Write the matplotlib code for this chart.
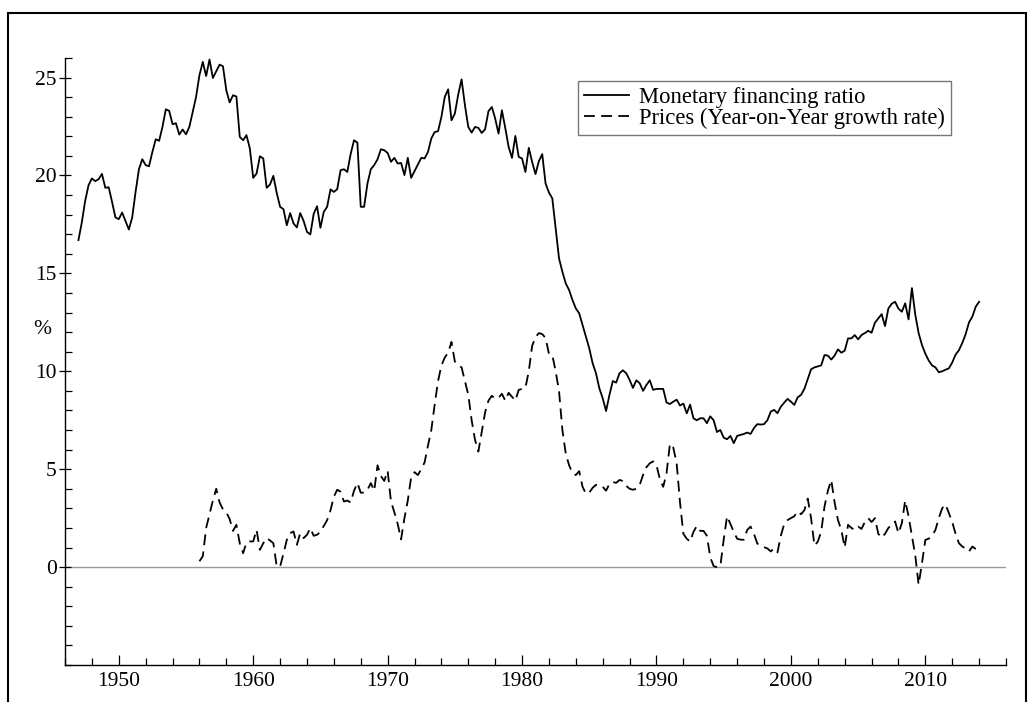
import matplotlib
matplotlib.use("Agg")
import matplotlib.pyplot as plt
from matplotlib.patches import Rectangle
from matplotlib.ticker import MultipleLocator

plt.rcParams['font.family'] = ['Liberation Serif', 'DejaVu Serif']

# Monetary financing ratio (quarterly readings)
mfr_years = [1947.0 + 0.25 * i for i in range(269)]
mfr_values = [
    16.7, 17.6, 18.7, 19.5,
    19.85, 19.71, 19.81, 20.08,
    19.37, 19.4, 18.65, 17.86,
    17.77, 18.11, 17.68, 17.24,
    17.86, 19.16, 20.32, 20.83,
    20.53, 20.47, 21.2, 21.85,
    21.77, 22.48, 23.38, 23.3,
    22.62, 22.67, 22.09, 22.35,
    22.1, 22.48, 23.24, 24.01,
    25.12, 25.8, 25.08, 25.92,
    24.98, 25.32, 25.66, 25.58,
    24.35, 23.73, 24.1, 24.03,
    21.97, 21.8, 22.06, 21.38,
    19.88, 20.1, 20.98, 20.87,
    19.37, 19.54, 19.98, 19.11,
    18.4, 18.28, 17.46, 18.08,
    17.55, 17.35, 18.08, 17.68,
    17.12, 16.99, 18.04, 18.43,
    17.33, 18.14, 18.4, 19.29,
    19.16, 19.3, 20.27, 20.32,
    20.18, 21.1, 21.8, 21.68,
    18.4, 18.4, 19.59, 20.32,
    20.53, 20.83, 21.34, 21.29,
    21.15, 20.7, 20.9, 20.61,
    20.64, 20.02, 20.9, 19.88,
    20.22, 20.56, 20.9, 20.87,
    21.2, 21.89, 22.22, 22.26,
    22.99, 24.01, 24.4, 22.82,
    23.16, 24.13, 24.91, 23.59,
    22.48, 22.19, 22.48, 22.43,
    22.17, 22.36, 23.28, 23.5,
    22.91, 22.14, 23.33, 22.43,
    21.46, 20.9, 22.02, 20.95,
    20.87, 20.18, 21.41, 20.69,
    20.07, 20.73, 21.09, 19.59,
    19.13, 18.83, 17.3, 15.77,
    15.08, 14.49, 14.15, 13.64,
    13.21, 12.96, 12.36, 11.77,
    11.17, 10.41, 9.9, 9.13,
    8.62, 7.97, 8.79, 9.5,
    9.42, 9.9, 10.05, 9.9,
    9.56, 9.15, 9.54, 9.39,
    9.0, 9.3, 9.54, 9.05,
    9.1, 9.1, 9.1, 8.4,
    8.33, 8.45, 8.55, 8.25,
    8.35, 7.85, 8.3, 7.6,
    7.5, 7.6, 7.6, 7.35,
    7.7, 7.5, 6.9, 7.0,
    6.61, 6.53, 6.7, 6.33,
    6.7, 6.75, 6.8, 6.87,
    6.8, 7.1, 7.3, 7.28,
    7.3, 7.5, 7.94, 8.03,
    7.86, 8.19, 8.4, 8.59,
    8.45, 8.28, 8.67, 8.79,
    9.1, 9.6, 10.1, 10.2,
    10.25, 10.3, 10.83, 10.8,
    10.6, 10.8, 11.12, 10.95,
    11.05, 11.68, 11.68, 11.85,
    11.63, 11.85, 11.95, 12.07,
    11.97, 12.48, 12.7, 12.92,
    12.31, 13.21, 13.45, 13.55,
    13.2, 13.04, 13.47, 12.65,
    14.25, 12.9, 11.95, 11.34,
    10.9, 10.55, 10.3, 10.2,
    9.95, 10.0, 10.08, 10.15,
    10.45, 10.85, 11.08, 11.45,
    11.9, 12.5, 12.8, 13.3,
    13.55,
]

# Prices, year-on-year growth rate (quarterly readings)
price_years = [1956.0 + 0.25 * i for i in range(232)]
price_values = [
    0.3, 0.55, 2.0, 2.7,
    3.4, 4.0, 3.3, 2.95,
    2.8, 2.45, 1.85, 2.16,
    1.22, 0.71, 1.26, 1.31,
    1.31, 1.9, 0.88, 1.22,
    1.48, 1.36, 1.22, 0.03,
    0.03, 0.68, 1.39, 1.73,
    1.82, 1.14, 1.73, 1.48,
    1.65, 1.99, 1.6, 1.65,
    1.8, 2.1, 2.4, 2.9,
    3.6, 3.95, 3.85, 3.35,
    3.4, 3.3, 3.9, 4.3,
    3.8, 3.8, 3.95, 4.29,
    3.9, 5.2, 4.65, 4.4,
    4.92, 3.35, 2.8, 2.2,
    1.42, 2.5, 3.4, 4.6,
    4.85, 4.7, 5.0, 5.35,
    6.2, 7.0, 8.3, 9.5,
    10.3, 10.7, 10.95, 11.5,
    10.5, 10.3, 10.2, 9.5,
    8.8, 7.5, 6.5, 5.9,
    6.9, 7.9, 8.5, 8.75,
    8.6, 8.65, 8.85, 8.5,
    8.9, 8.7, 8.5, 9.05,
    9.1, 9.15, 10.0, 11.3,
    11.75, 11.95, 11.9, 11.7,
    10.9, 10.83, 10.0, 9.0,
    7.0, 5.8, 5.2, 4.8,
    4.7, 4.9, 4.1, 3.75,
    3.8, 4.05, 4.2, 4.2,
    4.1, 3.9, 4.25, 4.35,
    4.3, 4.45, 4.4, 4.15,
    4.0, 3.95, 4.0, 4.2,
    4.7, 5.1, 5.3, 5.4,
    5.2, 4.5, 4.1, 4.8,
    6.3, 6.1, 5.3, 3.3,
    1.7, 1.45, 1.3, 1.8,
    2.1, 1.85, 1.85, 1.6,
    0.5, 0.05, 0.0, 0.05,
    1.4, 2.6, 2.2, 1.8,
    1.45, 1.4, 1.4, 1.9,
    2.07, 1.7, 1.2, 1.1,
    1.02, 0.95, 0.8, 0.95,
    0.75, 1.6, 2.2, 2.4,
    2.5, 2.6, 2.85, 2.7,
    2.9, 3.5, 2.5, 1.1,
    1.3, 1.8, 3.1, 3.9,
    4.45, 3.3, 2.4, 1.9,
    1.0, 2.16, 2.0, 1.9,
    2.07, 1.95, 2.3, 2.5,
    2.3, 2.5, 1.7, 1.5,
    1.7, 2.0, 2.16, 2.33,
    1.73, 2.24, 3.4, 2.6,
    1.6, 0.6, -0.9, 0.2,
    1.39, 1.45, 1.6, 1.9,
    2.5, 3.0, 3.2, 2.76,
    2.3, 1.7, 1.22, 1.05,
    0.95, 0.8, 1.05, 0.92,
]

series_labels = ["Monetary financing ratio", "Prices (Year-on-Year growth rate)"]
x_ticks = [1950, 1960, 1970, 1980, 1990, 2000, 2010]
y_ticks = [0, 5, 10, 15, 20, 25]

W, H = 1034, 702
fig = plt.figure(figsize=(W / 100, H / 100), dpi=100)
ax = fig.add_axes([65 / W, 1 - 665 / H, (1006 - 65) / W, (665 - 58) / H])

ax.axhline(0, color='#999999', lw=1.0, zorder=1)
ax.plot(mfr_years, mfr_values, color='black', lw=1.3, label=series_labels[0], zorder=3)
ax.plot(price_years, price_values, color='black', lw=1.3, ls=(0, (6, 3.5)),
        label=series_labels[1], zorder=3)

ax.set_xlim(1946, 2016)
ax.set_ylim(-5, 26)
ax.set_xticks(x_ticks)
ax.set_yticks(y_ticks)
ax.xaxis.set_minor_locator(MultipleLocator(2))
ax.yaxis.set_minor_locator(MultipleLocator(1))
ax.tick_params(axis='both', which='both', direction='in', color='black', width=0.9,
               labelsize=15.5, pad=2)
ax.tick_params(axis='both', which='major', length=7)
ax.tick_params(axis='both', which='minor', length=5)
ax.tick_params(axis='x', pad=5)
ax.tick_params(axis='y', which='major', direction='inout', length=8)

for s in ['top', 'right']:
    ax.spines[s].set_visible(False)
for s in ['left', 'bottom']:
    ax.spines[s].set_linewidth(1.0)

fig.text(42 / W, 1 - 330 / H, '%', fontsize=15.5, ha='center', va='center')

leg = ax.legend(loc='upper left', bbox_to_anchor=((578 - 65) / 941, (665 - 81) / 607),
                borderaxespad=0, fontsize=16.3, frameon=True, fancybox=False,
                edgecolor='#555555', handlelength=2.0, handletextpad=0.45,
                labelspacing=0.0, borderpad=0.25)
leg.get_frame().set_linewidth(1.0)

fig.add_artist(Rectangle((8 / W, -0.05), (1026 - 8) / W, (H - 13) / H + 0.05,
                         transform=fig.transFigure, fill=False, lw=1.5, color='black'))

fig.savefig('out.png', dpi=100)
